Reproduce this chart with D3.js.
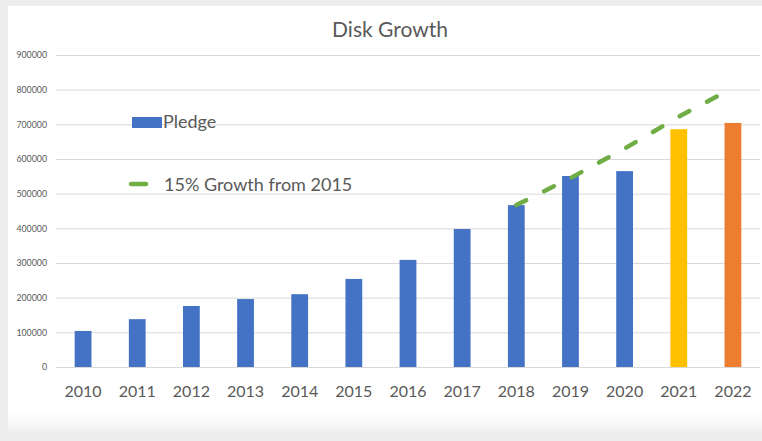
<!DOCTYPE html>
<html>
<head>
<meta charset="utf-8">
<title>Disk Growth</title>
<script src="https://cdn.jsdelivr.net/npm/d3@7"></script>
<style>
	body { margin: 0; background: #ededed; }
	svg { display: block; font-family: Lato, "Open Sans", sans-serif; }
</style>
</head>
<body>
<svg id="chart" width="762" height="441"></svg>
<script>
/*=================================
	DATA
**===============================*/

var years = ["2010", "2011", "2012", "2013", "2014", "2015", "2016", "2017", "2018", "2019", "2020", "2021", "2022"];
var pledge = [104000, 138000, 176000, 196000, 210000, 254000, 309000, 398000, 467000, 551000, 565000, 686000, 704000];

//15% growth line, only drawn from 2018 on
var growthYears = ["2018", "2019", "2020", "2021", "2022"];
var growth = [467000, 545000, 630000, 722000, 805000];

var yTicks = [0, 100000, 200000, 300000, 400000, 500000, 600000, 700000, 800000, 900000];

/*=================================
	SETUP
**===============================*/

var svg = d3.select("#chart");
var W = 762, H = 441;
//NOTE: don't call these top/bottom, window.top is read only
var plotL = 56, plotR = 760, plotT = 55, plotB = 367;
var grey = "#595959";

//the page behind the chart box
var defs = svg.append("defs");
var fade = defs.append("linearGradient")
	.attr("id", "fade").attr("x1", 0).attr("y1", 0).attr("x2", 0).attr("y2", 1);
fade.append("stop").attr("offset", "0").attr("stop-color", "#ffffff");
fade.append("stop").attr("offset", "0.55").attr("stop-color", "#f7f7f7");
fade.append("stop").attr("offset", "1").attr("stop-color", "#ececec");

svg.append("rect").attr("width", W).attr("height", H).attr("fill", "#ededed");
svg.append("rect").attr("x", 8).attr("y", 6).attr("width", W - 8).attr("height", 406).attr("fill", "#fff");
svg.append("rect").attr("x", 8).attr("y", 411).attr("width", W - 8).attr("height", 24).attr("fill", "url(#fade)");

var x = d3.scaleBand().domain(years).range([plotL, plotR]).paddingInner(0.69).paddingOuter(0.345);
var y = d3.scaleLinear().domain([0, 900000]).range([plotB, plotT]);

/*=================================
	GRID + AXES
**===============================*/

var yAxis = d3.axisLeft(y).tickValues(yTicks).tickSize(-(plotR - plotL)).tickPadding(9).tickFormat(d3.format("d"));
var gy = svg.append("g").attr("transform", "translate(" + plotL + ",0)").call(yAxis);
gy.select(".domain").remove();
gy.selectAll(".tick line").attr("stroke", "#d9d9d9").attr("stroke-width", 1);
gy.selectAll(".tick text").attr("fill", grey).style("font-size", "8.8px").style("font-family", "Lato, sans-serif");

var xAxis = d3.axisBottom(x).tickSize(0).tickPadding(19);
var gx = svg.append("g").attr("transform", "translate(0," + plotB + ")").call(xAxis);
gx.select(".domain").remove();
gx.selectAll(".tick text").attr("fill", grey).style("font-size", "16px").style("font-family", "Lato, sans-serif");

/*=================================
	BARS
**===============================*/

function barColour(year) {
	if (year === "2021") return "#ffc000";
	if (year === "2022") return "#ed7d31";
	return "#4472c4";
}

svg.append("g").selectAll("rect")
	.data(years.map(function(d, i) { return {year: d, value: pledge[i]}; }))
	.join("rect")
	.attr("x", function(d) { return x(d.year); })
	.attr("width", x.bandwidth())
	.attr("y", function(d) { return y(d.value); })
	.attr("height", function(d) { return y(0) - y(d.value); })
	.attr("fill", function(d) { return barColour(d.year); });

/*=================================
	GROWTH LINE
**===============================*/

var line = d3.line()
	.x(function(d) { return x(d.year) + x.bandwidth() / 2; })
	.y(function(d) { return y(d.value); });

svg.append("path")
	.datum(growthYears.map(function(d, i) { return {year: d, value: growth[i]}; }))
	.attr("d", line)
	.attr("fill", "none")
	.attr("stroke", "#70ad47")
	.attr("stroke-width", 4.5)
	.attr("stroke-linecap", "round")
	.attr("stroke-dasharray", "11 20");

/*=================================
	TITLE + LEGEND
**===============================*/

svg.append("text")
	.attr("x", 390).attr("y", 37)
	.attr("text-anchor", "middle")
	.attr("fill", grey)
	.style("font-size", "21px")
	.text("Disk Growth");

var legend = svg.append("g");
legend.append("rect").attr("x", 132).attr("y", 117).attr("width", 30).attr("height", 11).attr("fill", "#4472c4");
legend.append("text").attr("x", 163).attr("y", 128).attr("fill", grey).style("font-size", "18px").text("Pledge");
legend.append("line").attr("x1", 131).attr("x2", 146).attr("y1", 184).attr("y2", 184)
	.attr("stroke", "#70ad47").attr("stroke-width", 4.5).attr("stroke-linecap", "round");
legend.append("text").attr("x", 164).attr("y", 191).attr("fill", grey).style("font-size", "18px").text("15% Growth from 2015");
</script>
</body>
</html>
